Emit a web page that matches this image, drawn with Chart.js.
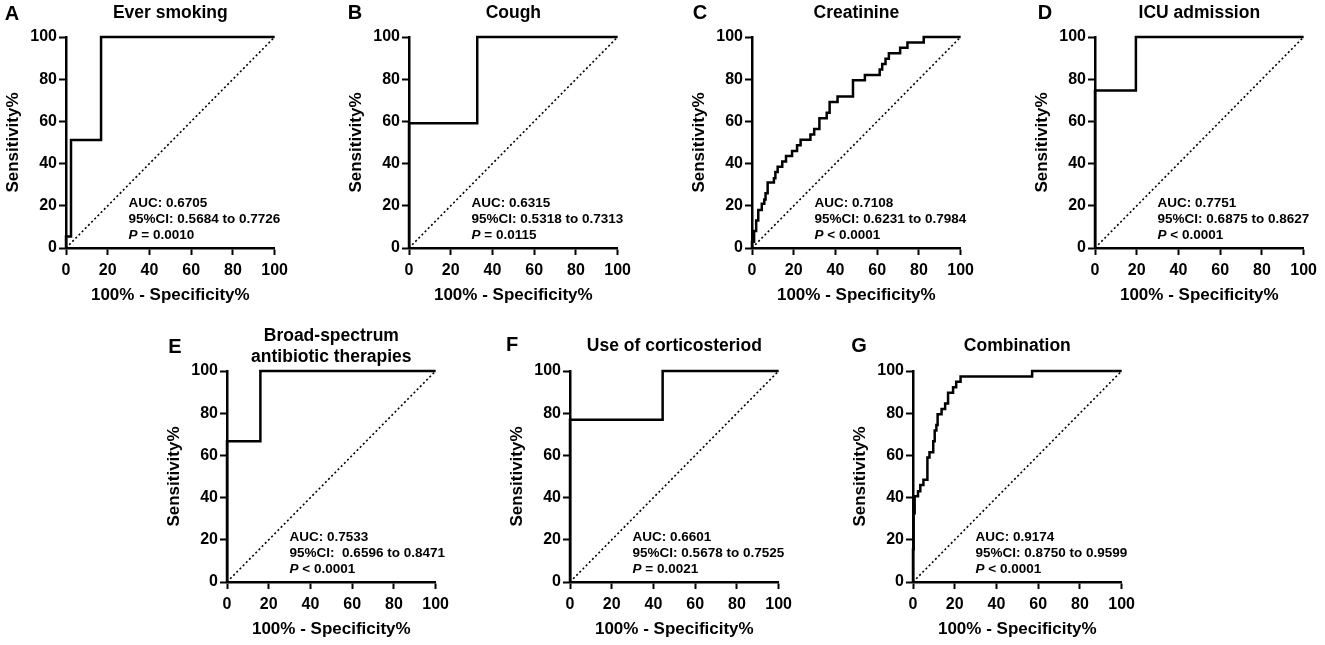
<!DOCTYPE html>
<html>
<head>
<meta charset="utf-8">
<script src="https://cdn.jsdelivr.net/npm/chart.js@4.4.1/dist/chart.umd.min.js"></script>
<style>
    html, body { margin: 0; padding: 0; background: #fff; overflow: hidden; }
    #page { position: relative; width: 1325px; height: 645px; }
    .panel { position: absolute; }
    .letter {
        position: absolute;
        font: bold 20px "Liberation Sans", Arial, sans-serif;
        line-height: 1;
        transform: translate(-50%, -50%);
        color: #000;
    }
</style>
</head>
<body>
<div id="page"></div>
<script>
// panel labels and texts
const panelLetters = ['A', 'B', 'C', 'D', 'E', 'F', 'G'];
const panelTitles = [
    ['Ever smoking'],
    ['Cough'],
    ['Creatinine'],
    ['ICU admission'],
    ['Broad-spectrum', 'antibiotic therapies'],
    ['Use of corticosteriod'],
    ['Combination']
];
const aucLabels = ['AUC: 0.6705', 'AUC: 0.6315', 'AUC: 0.7108', 'AUC: 0.7751', 'AUC: 0.7533', 'AUC: 0.6601', 'AUC: 0.9174'];
const ciLabels = [
    '95%CI: 0.5684 to 0.7726',
    '95%CI: 0.5318 to 0.7313',
    '95%CI: 0.6231 to 0.7984',
    '95%CI: 0.6875 to 0.8627',
    '95%CI:  0.6596 to 0.8471',
    '95%CI: 0.5678 to 0.7525',
    '95%CI: 0.8750 to 0.9599'
];
const pLabels = [' = 0.0010', ' = 0.0115', ' < 0.0001', ' < 0.0001', ' < 0.0001', ' = 0.0021', ' < 0.0001'];

// ROC curves: 100% - specificity (x) and sensitivity (y), one point per threshold
const fprA = [0, 0, 2.4, 16.8, 100];
const sensA = [0, 5.5, 51.2, 100, 100];
const fprB = [0, 0, 32.7, 100];
const sensB = [0, 59.1, 100, 100];
const fprC = [0, 0, 1, 2, 3, 4.7, 5.9, 6.5, 7.5, 10.5, 11.2, 12.3, 14.5, 16.3, 19.2, 21.6, 23.3, 28, 29.8, 32.3, 35.8, 37.2, 41, 48.4, 54.1, 61.2, 62.4, 64, 65.6, 71, 74.5, 82.3, 100];
const sensC = [0, 3, 8, 13, 18, 21, 23, 26, 31, 33, 36, 38.5, 41, 43.6, 46, 48.7, 51.3, 53.8, 56.4, 61.5, 64.1, 69.2, 71.8, 79.5, 82, 84.6, 87.2, 89.7, 92.3, 94.9, 97.4, 100, 100];
const fprD = [0, 0, 19.6, 100];
const sensD = [0, 74.6, 100, 100];
const fprE = [0, 0, 16, 100];
const sensE = [0, 66.7, 100, 100];
const fprF = [0, 0, 44.4, 100];
const sensF = [0, 76.9, 100, 100];
const fprG = [0, 0, 0.3, 0.8, 2.4, 3.5, 5, 6.9, 7.9, 9.7, 10.4, 11.2, 11.8, 13.7, 15.4, 16.8, 19.2, 20.7, 22.8, 57.1, 100];
const sensG = [0, 15.4, 32.6, 40.6, 43, 46, 48.5, 59, 61.5, 66.7, 71.8, 74.4, 79.5, 82, 84.6, 89.7, 92.3, 94.9, 97.4, 100, 100];

// reference diagonal
const diagX = [0, 100];
const diagY = [0, 100];

const axisMin = 0;
const axisMax = 100;
const axisStep = 20;
const textAtX = 30;

const allFpr = [fprA, fprB, fprC, fprD, fprE, fprF, fprG];
const allSens = [sensA, sensB, sensC, sensD, sensE, sensF, sensG];

// layout: plot area top-left for each panel, and letter centres
const plotCorners = [[66, 37], [409, 37], [752, 37], [1095, 37], [227, 371], [570, 371], [913, 371]];
const letterSpots = [[12, 13], [355, 12], [700, 12], [1045, 12], [175, 346], [512, 344], [859, 345]];
const PLOT_W = 212, PLOT_H = 211, YAXIS_W = 66, XAXIS_H = 60, RIGHT_PAD = 16;

const FONT = '"Liberation Sans", Arial, sans-serif';

function toPoints(xs, ys) {
    return xs.map((x, i) => ({ x: x, y: ys[i] }));
}

// draws AUC / CI / P text inside each plot
const rocText = {
    id: 'rocText',
    afterDatasetsDraw(chart, args, opts) {
        const { ctx, chartArea, scales } = chart;
        const x = scales.x.getPixelForValue(textAtX);
        ctx.save();
        ctx.fillStyle = '#000';
        ctx.textBaseline = 'middle';
        ctx.textAlign = 'left';
        ctx.font = 'bold 13.5px ' + FONT;
        ctx.fillText(opts.auc, x, chartArea.bottom - 44.5);
        ctx.fillText(opts.ci, x, chartArea.bottom - 28.5);
        ctx.font = 'italic bold 13.5px ' + FONT;
        ctx.fillText('P', x, chartArea.bottom - 13);
        const w = ctx.measureText('P').width;
        ctx.font = 'bold 13.5px ' + FONT;
        ctx.fillText(opts.p, x + w, chartArea.bottom - 13);
        ctx.restore();
    }
};

function makePanel(i) {
    const page = document.getElementById('page');
    const corner = plotCorners[i];
    const topRow = i < 4;
    const topSpace = topRow ? 37 : 50;
    const width = YAXIS_W + PLOT_W + RIGHT_PAD;
    const height = topSpace + PLOT_H + XAXIS_H;

    const wrap = document.createElement('div');
    wrap.className = 'panel';
    wrap.style.left = (corner[0] - YAXIS_W) + 'px';
    wrap.style.top = (corner[1] - topSpace) + 'px';
    wrap.style.width = width + 'px';
    wrap.style.height = height + 'px';
    const canvas = document.createElement('canvas');
    canvas.width = width;
    canvas.height = height;
    canvas.style.width = width + 'px';
    canvas.style.height = height + 'px';
    wrap.appendChild(canvas);
    page.appendChild(wrap);

    const letter = document.createElement('div');
    letter.className = 'letter';
    letter.textContent = panelLetters[i];
    letter.style.left = letterSpots[i][0] + 'px';
    letter.style.top = letterSpots[i][1] + 'px';
    page.appendChild(letter);

    // title padding so the plot top lands where the reference has it
    const lines = panelTitles[i].length;
    let padTop;
    if (topRow) padTop = 2.4;
    else if (lines > 1) padTop = 4.4;
    else padTop = 14.9;
    const lineH = 17.5 * 1.2;
    const padBottom = topSpace - padTop - lines * lineH;

    const tickFont = { family: FONT, size: 16, weight: 'bold' };
    const titleFont = { family: FONT, size: 17, weight: 'bold' };

    new Chart(canvas, {
        type: 'scatter',
        data: {
            datasets: [
                {
                    data: toPoints(allFpr[i], allSens[i]),
                    showLine: true,
                    stepped: 'before',
                    borderColor: '#000',
                    borderWidth: 2.5,
                    pointRadius: 0,
                    fill: false,
                    clip: 6
                },
                {
                    data: toPoints(diagX, diagY),
                    showLine: true,
                    borderColor: '#000',
                    borderWidth: 1.6,
                    borderDash: [2, 2.5],
                    pointRadius: 0,
                    fill: false,
                    clip: 6
                }
            ]
        },
        options: {
            responsive: false,
            animation: false,
            events: [],
            layout: { padding: { left: 0, right: RIGHT_PAD, top: 0, bottom: 0 } },
            plugins: {
                legend: { display: false },
                tooltip: { enabled: false },
                title: {
                    display: true,
                    fullSize: false,
                    text: panelTitles[i],
                    color: '#000',
                    font: { family: FONT, size: 17.5, weight: 'bold', lineHeight: 1.2 },
                    padding: { top: padTop, bottom: padBottom }
                },
                rocText: { auc: aucLabels[i], ci: ciLabels[i], p: pLabels[i] }
            },
            scales: {
                x: {
                    type: 'linear',
                    min: axisMin,
                    max: axisMax,
                    afterFit: function(scale) { scale.height = XAXIS_H; },
                    grid: { drawOnChartArea: false, drawTicks: true, tickLength: 7, tickWidth: 2, tickColor: '#000' },
                    border: { display: true, color: '#000', width: 2.5 },
                    ticks: { stepSize: axisStep, color: '#000', font: tickFont, padding: 6, maxRotation: 0, autoSkip: false },
                    title: {
                        display: true,
                        text: '100% - Specificity%',
                        color: '#000',
                        font: titleFont,
                        padding: { top: 0, bottom: 2 }
                    }
                },
                y: {
                    type: 'linear',
                    min: axisMin,
                    max: axisMax,
                    afterFit: function(scale) { scale.width = YAXIS_W; },
                    grid: { drawOnChartArea: false, drawTicks: true, tickLength: 7, tickWidth: 2, tickColor: '#000' },
                    border: { display: true, color: '#000', width: 2.5 },
                    ticks: { stepSize: axisStep, color: '#000', font: tickFont, padding: 2, autoSkip: false },
                    title: {
                        display: true,
                        text: 'Sensitivity%',
                        color: '#000',
                        font: titleFont,
                        padding: { top: 3, bottom: 0 }
                    }
                }
            }
        },
        plugins: [rocText]
    });
}

for (let i = 0; i < panelLetters.length; i++) {
    makePanel(i);
}
</script>
</body>
</html>
